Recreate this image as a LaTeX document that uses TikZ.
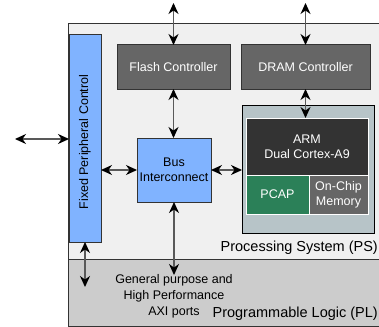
\documentclass[tikz,border=0pt]{standalone}
\usepackage{fontspec}
\setmainfont{Liberation Sans}
\usetikzlibrary{arrows.meta}

\definecolor{psgray}{HTML}{F0F0F0}
\definecolor{plgray}{HTML}{CCCCCC}
\definecolor{ctrlgray}{HTML}{666666}
\definecolor{edgegray}{HTML}{333333}
\definecolor{busblue}{HTML}{80B3FF}
\definecolor{armbg}{HTML}{B7C4C8}
\definecolor{cpudark}{HTML}{333333}
\definecolor{pcapgreen}{HTML}{2B8058}

\begin{document}
\begin{tikzpicture}[x=1pt, y=-1pt,
    box/.style = {draw=edgegray, line width=1pt, inner sep=0pt, outer sep=0pt, align=center,
                  font=\fontsize{12.5}{15}\selectfont},
    ctrl/.style = {box, fill=ctrlgray, text=white},
    blue/.style = {box, fill=busblue, text=black},
    inner/.style = {box, draw=white, text=white},
    conn/.style = {draw=gray!70!black, line width=1.3pt,
                   arrows={Stealth[black, length=11pt, width=10pt, inset=3.5pt]-Stealth[black, length=11pt, width=10pt, inset=3.5pt]}},
    big/.style = {inner sep=0pt, font=\fontsize{14.5}{17}\selectfont}]
    \useasboundingbox (0,0) rectangle (379,326);

    % the two regions
    \node[box, fill=psgray, minimum width=352pt, minimum height=235pt, anchor=north west] (ps) at (68,24) {};
    \node[box, fill=plgray, minimum width=352pt, minimum height=67pt, anchor=north west] (pl) at (68,259) {};

    % blocks of the PS
    \node[blue, minimum width=32pt, minimum height=207pt] (fixed) at (85,138.5) {};
    \node[rotate=90, font=\fontsize{12.5}{15}\selectfont] (fixedtxt) at (85,142) {Fixed Peripheral Control};
    \node[ctrl, minimum width=113pt, minimum height=44pt] (flash) at (173.5,67) {Flash Controller};
    \node[ctrl, minimum width=129pt, minimum height=44pt] (dram) at (305.5,67) {DRAM Controller};
    \node[blue, minimum width=74pt, minimum height=64pt] (bus) at (174,170) {Bus\\Interconnect};
    \node[box, fill=armbg, draw=black, minimum width=132pt, minimum height=128pt] (arm) at (308,169) {};
    \node[inner, fill=cpudark, minimum width=122pt, minimum height=57pt] (cpu) at (307,146.5) {ARM\\Dual Cortex-A9};
    \node[inner, fill=pcapgreen, minimum width=63pt, minimum height=39pt] (pcap) at (277.5,194.5) {PCAP};
    \node[inner, fill=ctrlgray, minimum width=59pt, minimum height=39pt] (ocm) at (338.5,194.5) {On-Chip\\Memory};

    % labels
    \node[big, anchor=east] (pslabel) at (378,248) {Processing System (PS)};
    \node[big, anchor=east] (pllabel) at (378,314) {Programmable Logic (PL)};
    \node[align=center, font=\fontsize{12.5}{16}\selectfont] (axi) at (174,296) {General purpose and\\High Performance\\AXI ports};

    % free ends
    \coordinate (flashio) at (173.5,3);
    \coordinate (dramio) at (305.5,3);
    \coordinate (extio) at (15,139);
    \coordinate (fixedpl) at (85,287);
    \coordinate (buspl) at (174,275);

    \draw[conn] (flashio) -- (flash.north);
    \draw[conn] (dramio) -- (dram.north);
    \draw[conn] (flash.south) -- (flash.south |- bus.north);
    \draw[conn] (dram.south) -- (dram.south |- cpu.north);
    \draw[conn] (extio) -- (fixed.west |- extio);
    \draw[conn] (fixed.east |- bus.west) -- (bus.west);
    \draw[conn] (bus.east) -- (arm.west |- bus.east);
    \draw[conn] (fixed.south) -- (fixedpl);
    \draw[conn] (bus.south) -- (buspl);

\end{tikzpicture}
\end{document}
